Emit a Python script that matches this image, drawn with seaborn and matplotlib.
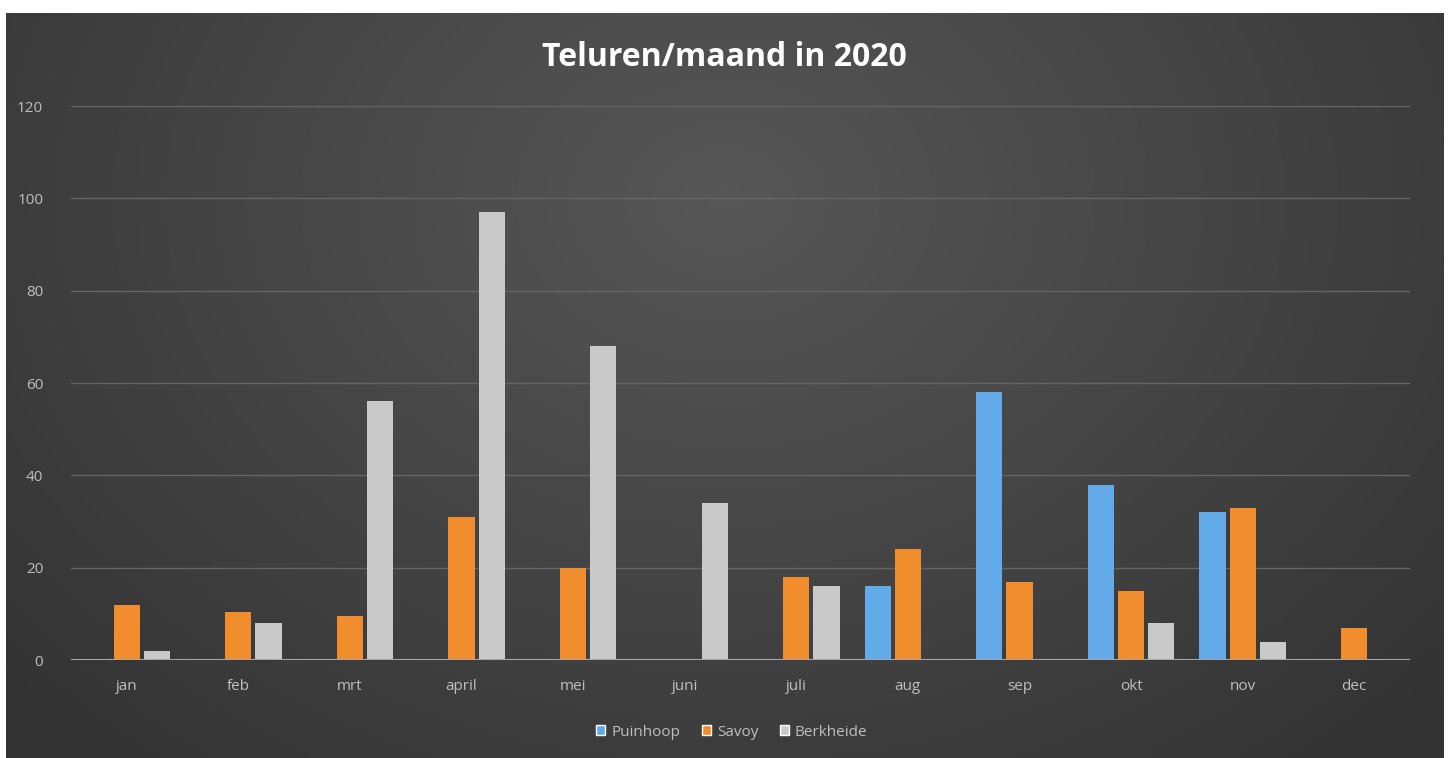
import numpy as np
import pandas as pd
import seaborn as sns
import matplotlib.pyplot as plt
from matplotlib.patches import Patch

# data
months = ["jan", "feb", "mrt", "april", "mei", "juni", "juli", "aug", "sep", "okt", "nov", "dec"]
puinhoop = [0, 0, 0, 0, 0, 0, 0, 16, 58, 38, 32, 0]
savoy = [12, 10.5, 9.5, 31, 20, 0, 18, 24, 17, 15, 33, 7]
berkheide = [2, 8, 56, 97, 68, 34, 16, 0, 0, 8, 4, 0]
series = ["Puinhoop", "Savoy", "Berkheide"]
colors = ["#62aae8", "#f28d2e", "#c9c9c9"]

df = pd.DataFrame({"maand": months * 3,
                   "locatie": np.repeat(series, len(months)),
                   "uren": puinhoop + savoy + berkheide})

sns.set_theme(style="dark")
plt.rcParams["font.family"] = ["Open Sans", "DejaVu Sans"]

W, H = 1449, 758
fig = plt.figure(figsize=(W / 100, H / 100), dpi=100)
fig.patch.set_facecolor("white")

# dark radial background like the Excel chart area
bg = fig.add_axes([6 / W, 0, (1444 - 6) / W, (H - 13) / H])
yy, xx = np.mgrid[0:1:300j, 0:1:600j]
r = np.sqrt(((xx - 0.5) / 0.6) ** 2 + ((yy - 0.25) / 0.9) ** 2)
val = np.clip(0.215 + 0.125 * (1 - r), 0.2, 0.34)
bg.imshow(np.dstack([val, val, val]), aspect="auto", extent=(0, 1, 1, 0))
bg.set_axis_off()

ax = fig.add_axes([71 / W, (H - 660) / H, (1410 - 71) / W, (660 - 106) / H])
ax.set_facecolor("none")
sns.barplot(data=df, x="maand", y="uren", hue="locatie", order=months,
            hue_order=series, palette=colors, width=0.81, gap=0.13,
            saturation=1, legend=False, linewidth=0, ax=ax, zorder=3)

ax.set_ylim(0, 120)
ax.set_yticks(range(0, 121, 20))
ax.set_xlim(-0.5, len(months) - 0.5)
ax.set_xlabel("")
ax.set_ylabel("")
ax.grid(axis="y", color="#656565", linewidth=1, zorder=0)
ax.grid(axis="x", visible=False)
for s in ax.spines.values():
    s.set_visible(False)
ax.axhline(0, color="#a6a6a6", linewidth=1.5, zorder=4)
ax.tick_params(axis="both", colors="#bfbfbf", labelsize=11, length=0)
ax.tick_params(axis="y", pad=20)
ax.tick_params(axis="x", pad=14)

fig.text(0.5, (H - 58) / H, "Teluren/maand in 2020", ha="center", va="center",
         color="white", fontsize=23, fontweight="bold")

handles = [Patch(facecolor=c, label=s) for c, s in zip(colors, series)]
leg = fig.legend(handles=handles, loc="center", bbox_to_anchor=(0.505, (H - 732) / H),
                 ncol=3, frameon=False, fontsize=11, handlelength=0.6,
                 handleheight=0.6, handletextpad=0.4, columnspacing=1.4)
for t in leg.get_texts():
    t.set_color("#bfbfbf")

fig.savefig("out.png", dpi=100)
